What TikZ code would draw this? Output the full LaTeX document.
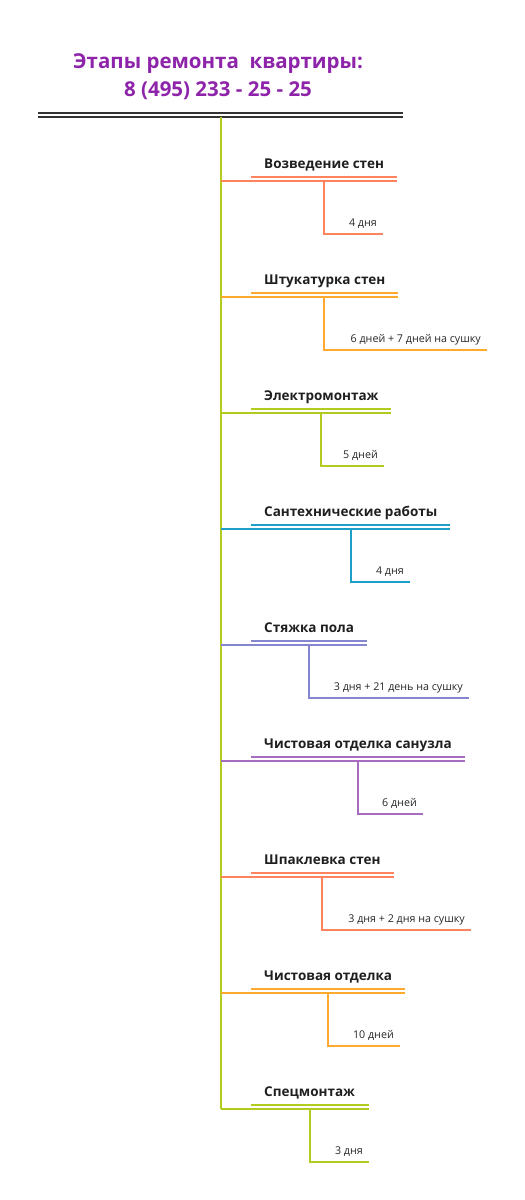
\documentclass[tikz,border=0pt]{standalone}
\usepackage{fontspec}
\setmainfont{Open Sans}
\usetikzlibrary{calc}

\definecolor{titlePurple}{HTML}{8E24AA}
\definecolor{stageCoral}{HTML}{FF835F}
\definecolor{stageOrange}{HTML}{FFA92E}
\definecolor{stageLime}{HTML}{B3CB1F}
\definecolor{stageBlue}{HTML}{1E9FC8}
\definecolor{stageLilac}{HTML}{8585D0}
\definecolor{stagePurple}{HTML}{A66CBF}

\tikzset{
	titletext/.style={anchor=base, inner sep=0pt, text=titlePurple, font=\fontsize{20.5}{24}\selectfont\bfseries},
	stagetext/.style={anchor=base west, inner sep=0pt, text=black!88, font=\fontsize{13.5}{16}\selectfont\bfseries},
	daystext/.style={anchor=base east, inner sep=0pt, text=black!85, font=\fontsize{10.7}{13}\selectfont},
	stageline/.style={line width=1.4pt}
}

\begin{document}
\begin{tikzpicture}[x=1pt, y=-1pt]

		\useasboundingbox (0,0) rectangle (525,1200);

		\def \spinex{221};
		\def \textdx{43};
		\def \textdy{13};
		\def \updx{30};
		\def \updy{4};

		% title
		\node[titletext] (title1) at (218,68) {Этапы ремонта\ \ квартиры:};
		\node[titletext] (title2) at (218,96) {8 (495) 233 - 25 - 25};

		\coordinate (topleft) at (38,115);
		\coordinate (topright) at (403,115);
		\draw[line width=1.5pt, draw=black!80] ($(topleft)+(0,-2)$) -- ($(topright)+(0,-2)$);
		\draw[line width=1.5pt, draw=black!80] ($(topleft)+(0,2)$) -- ($(topright)+(0,2)$);

		% spine
		\coordinate (spinetop) at (\spinex,117);
		\coordinate (spinebottom) at (\spinex,1109);
		\draw[stageline, draw=stageLime] (spinetop) -- (spinebottom);

		% stage 1
		\coordinate (mystage1) at (\spinex,181);
		\coordinate (mystage1end) at (397,181);
		\node[stagetext] (stage1) at ($(mystage1)+(\textdx,-\textdy)$) {Возведение стен};
		\draw[stageline, draw=stageCoral] (mystage1) -- (mystage1end);
		\draw[stageline, draw=stageCoral] ($(mystage1)+(\updx,-\updy)$) -- ($(mystage1end)+(0,-\updy)$);
		\coordinate (mybranch1) at (324,181);
		\coordinate (mybranch1end) at (383,234);
		\draw[stageline, draw=stageCoral] (mybranch1) |- (mybranch1end);
		\node[daystext] (days1) at ($(mybranch1end)+(-6,-8)$) {4 дня};

		% stage 2
		\coordinate (mystage2) at (\spinex,297);
		\coordinate (mystage2end) at (398,297);
		\node[stagetext] (stage2) at ($(mystage2)+(\textdx,-\textdy)$) {Штукатурка стен};
		\draw[stageline, draw=stageOrange] (mystage2) -- (mystage2end);
		\draw[stageline, draw=stageOrange] ($(mystage2)+(\updx,-\updy)$) -- ($(mystage2end)+(0,-\updy)$);
		\coordinate (mybranch2) at (324,297);
		\coordinate (mybranch2end) at (487,350);
		\draw[stageline, draw=stageOrange] (mybranch2) |- (mybranch2end);
		\node[daystext] (days2) at ($(mybranch2end)+(-6,-8)$) {6 дней + 7 дней на сушку};

		% stage 3
		\coordinate (mystage3) at (\spinex,413);
		\coordinate (mystage3end) at (391,413);
		\node[stagetext] (stage3) at ($(mystage3)+(\textdx,-\textdy)$) {Электромонтаж};
		\draw[stageline, draw=stageLime] (mystage3) -- (mystage3end);
		\draw[stageline, draw=stageLime] ($(mystage3)+(\updx,-\updy)$) -- ($(mystage3end)+(0,-\updy)$);
		\coordinate (mybranch3) at (321,413);
		\coordinate (mybranch3end) at (384,466);
		\draw[stageline, draw=stageLime] (mybranch3) |- (mybranch3end);
		\node[daystext] (days3) at ($(mybranch3end)+(-6,-8)$) {5 дней};

		% stage 4
		\coordinate (mystage4) at (\spinex,529);
		\coordinate (mystage4end) at (450,529);
		\node[stagetext] (stage4) at ($(mystage4)+(\textdx,-\textdy)$) {Сантехнические работы};
		\draw[stageline, draw=stageBlue] (mystage4) -- (mystage4end);
		\draw[stageline, draw=stageBlue] ($(mystage4)+(\updx,-\updy)$) -- ($(mystage4end)+(0,-\updy)$);
		\coordinate (mybranch4) at (351,529);
		\coordinate (mybranch4end) at (410,582);
		\draw[stageline, draw=stageBlue] (mybranch4) |- (mybranch4end);
		\node[daystext] (days4) at ($(mybranch4end)+(-6,-8)$) {4 дня};

		% stage 5
		\coordinate (mystage5) at (\spinex,645);
		\coordinate (mystage5end) at (367,645);
		\node[stagetext] (stage5) at ($(mystage5)+(\textdx,-\textdy)$) {Стяжка пола};
		\draw[stageline, draw=stageLilac] (mystage5) -- (mystage5end);
		\draw[stageline, draw=stageLilac] ($(mystage5)+(\updx,-\updy)$) -- ($(mystage5end)+(0,-\updy)$);
		\coordinate (mybranch5) at (309,645);
		\coordinate (mybranch5end) at (469,698);
		\draw[stageline, draw=stageLilac] (mybranch5) |- (mybranch5end);
		\node[daystext] (days5) at ($(mybranch5end)+(-6,-8)$) {3 дня + 21 день на сушку};

		% stage 6
		\coordinate (mystage6) at (\spinex,761);
		\coordinate (mystage6end) at (465,761);
		\node[stagetext] (stage6) at ($(mystage6)+(\textdx,-\textdy)$) {Чистовая отделка санузла};
		\draw[stageline, draw=stagePurple] (mystage6) -- (mystage6end);
		\draw[stageline, draw=stagePurple] ($(mystage6)+(\updx,-\updy)$) -- ($(mystage6end)+(0,-\updy)$);
		\coordinate (mybranch6) at (358,761);
		\coordinate (mybranch6end) at (423,814);
		\draw[stageline, draw=stagePurple] (mybranch6) |- (mybranch6end);
		\node[daystext] (days6) at ($(mybranch6end)+(-6,-8)$) {6 дней};

		% stage 7
		\coordinate (mystage7) at (\spinex,877);
		\coordinate (mystage7end) at (394,877);
		\node[stagetext] (stage7) at ($(mystage7)+(\textdx,-\textdy)$) {Шпаклевка стен};
		\draw[stageline, draw=stageCoral] (mystage7) -- (mystage7end);
		\draw[stageline, draw=stageCoral] ($(mystage7)+(\updx,-\updy)$) -- ($(mystage7end)+(0,-\updy)$);
		\coordinate (mybranch7) at (322,877);
		\coordinate (mybranch7end) at (471,930);
		\draw[stageline, draw=stageCoral] (mybranch7) |- (mybranch7end);
		\node[daystext] (days7) at ($(mybranch7end)+(-6,-8)$) {3 дня + 2 дня на сушку};

		% stage 8
		\coordinate (mystage8) at (\spinex,993);
		\coordinate (mystage8end) at (405,993);
		\node[stagetext] (stage8) at ($(mystage8)+(\textdx,-\textdy)$) {Чистовая отделка};
		\draw[stageline, draw=stageOrange] (mystage8) -- (mystage8end);
		\draw[stageline, draw=stageOrange] ($(mystage8)+(\updx,-\updy)$) -- ($(mystage8end)+(0,-\updy)$);
		\coordinate (mybranch8) at (328,993);
		\coordinate (mybranch8end) at (400,1046);
		\draw[stageline, draw=stageOrange] (mybranch8) |- (mybranch8end);
		\node[daystext] (days8) at ($(mybranch8end)+(-6,-8)$) {10 дней};

		% stage 9
		\coordinate (mystage9) at (\spinex,1109);
		\coordinate (mystage9end) at (369,1109);
		\node[stagetext] (stage9) at ($(mystage9)+(\textdx,-\textdy)$) {Спецмонтаж};
		\draw[stageline, draw=stageLime] (mystage9) -- (mystage9end);
		\draw[stageline, draw=stageLime] ($(mystage9)+(\updx,-\updy)$) -- ($(mystage9end)+(0,-\updy)$);
		\coordinate (mybranch9) at (310,1109);
		\coordinate (mybranch9end) at (369,1162);
		\draw[stageline, draw=stageLime] (mybranch9) |- (mybranch9end);
		\node[daystext] (days9) at ($(mybranch9end)+(-6,-8)$) {3 дня};

	\end{tikzpicture}
\end{document}
